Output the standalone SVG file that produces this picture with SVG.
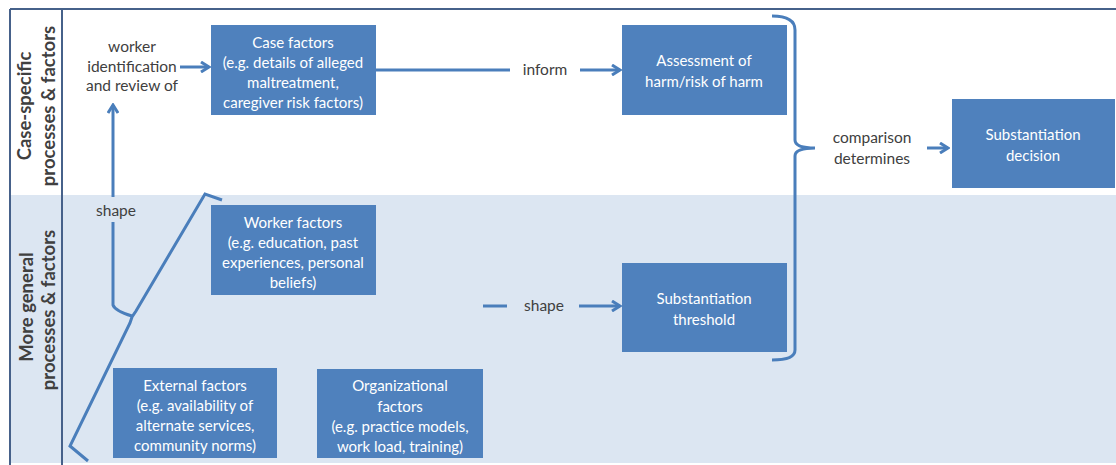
<svg xmlns="http://www.w3.org/2000/svg" width="1116" height="465" viewBox="0 0 1116 465">
<defs>
<style>
.box{fill:#4f81bd;}
.bt{font-family:Lato,"Liberation Sans",sans-serif;font-size:15px;fill:#ffffff;text-anchor:middle;}
.lbl{font-family:Lato,"Liberation Sans",sans-serif;font-size:15.5px;fill:#404040;text-anchor:middle;}
.side{font-family:Lato,"Liberation Sans",sans-serif;font-size:18.5px;font-weight:bold;fill:#404040;text-anchor:middle;}
.ln{stroke:#4a7ebb;stroke-width:3;fill:none;}
.frame{stroke:#46618a;stroke-width:2;fill:none;}
</style>
<marker id="ah" markerWidth="12" markerHeight="12" viewBox="0 0 12 12" refX="10" refY="6" orient="auto" markerUnits="userSpaceOnUse">
<path d="M2,1 L10,6 L2,11" fill="none" stroke="#4a7ebb" stroke-width="3"/>
</marker>
</defs>
<rect x="0" y="0" width="1116" height="465" fill="#ffffff"/>
<rect x="10" y="195" width="1106" height="268" fill="#dce6f2"/>
<g id="frame">
<line class="frame" x1="10" y1="9" x2="1116" y2="9"/>
<line class="frame" x1="10" y1="9" x2="10" y2="465"/>
<line class="frame" x1="62" y1="9" x2="62" y2="465"/>
</g>
<g id="side-top">
<text class="side" transform="translate(31,106) rotate(-90)">Case-specific</text>
<text class="side" transform="translate(55,106) rotate(-90)">processes &amp; factors</text>
</g>
<g id="side-bottom">
<text class="side" transform="translate(33,307) rotate(-90)">More general</text>
<text class="side" transform="translate(55,310) rotate(-90)">processes &amp; factors</text>
</g>
<g id="connectors">
<line class="ln" x1="180" y1="67" x2="209" y2="67" marker-end="url(#ah)"/>
<line class="ln" x1="113" y1="197" x2="113" y2="105" marker-end="url(#ah)"/>
<path class="ln" d="M113,222 L113,305 Q115,311 132,316"/>
<path class="ln" d="M222,200 L205,194 L136,311 L132,317 L130,323 L70,446 L88,461"/>
<line class="ln" x1="376" y1="70" x2="510" y2="70"/>
<line class="ln" x1="580" y1="70" x2="620" y2="70" marker-end="url(#ah)"/>
<path class="ln" d="M772,16 Q795,16 795,30 L795,140 Q795,148 815,148 Q795,148 795,156 L795,350 Q795,360 772,360"/>
<line class="ln" x1="927" y1="148" x2="948" y2="148" marker-end="url(#ah)"/>
<line class="ln" x1="483" y1="306" x2="507" y2="306"/>
<line class="ln" x1="579" y1="306" x2="620" y2="306" marker-end="url(#ah)"/>
</g>
<g id="labels">
<text class="lbl" x="132" y="52">worker</text>
<text class="lbl" x="132" y="72">identification</text>
<text class="lbl" x="132" y="91">and review of</text>
<text class="lbl" x="116" y="216">shape</text>
<text class="lbl" x="545" y="75">inform</text>
<text class="lbl" x="544" y="311">shape</text>
<text class="lbl" x="872" y="143">comparison</text>
<text class="lbl" x="872" y="164">determines</text>
</g>
<g id="case-factors">
<rect class="box" x="211" y="25" width="165" height="90"/>
<text class="bt" x="293" y="48">Case factors</text>
<text class="bt" x="293" y="68">(e.g. details of alleged</text>
<text class="bt" x="293" y="88">maltreatment,</text>
<text class="bt" x="293" y="108">caregiver risk factors)</text>
</g>
<g id="assessment">
<rect class="box" x="622" y="25" width="165" height="90"/>
<text class="bt" x="704" y="66">Assessment of</text>
<text class="bt" x="704" y="87">harm/risk of harm</text>
</g>
<g id="substantiation-decision">
<rect class="box" x="952" y="99" width="163" height="89"/>
<text class="bt" x="1033" y="140">Substantiation</text>
<text class="bt" x="1033" y="161">decision</text>
</g>
<g id="worker-factors">
<rect class="box" x="211" y="205" width="165" height="90"/>
<text class="bt" x="293" y="228">Worker factors</text>
<text class="bt" x="293" y="248">(e.g. education, past</text>
<text class="bt" x="293" y="268">experiences, personal</text>
<text class="bt" x="293" y="288">beliefs)</text>
</g>
<g id="substantiation-threshold">
<rect class="box" x="622" y="263" width="165" height="89"/>
<text class="bt" x="704" y="304">Substantiation</text>
<text class="bt" x="704" y="325">threshold</text>
</g>
<g id="external-factors">
<rect class="box" x="113" y="368" width="164" height="90"/>
<text class="bt" x="195" y="391">External factors</text>
<text class="bt" x="195" y="411">(e.g. availability of</text>
<text class="bt" x="195" y="431">alternate services,</text>
<text class="bt" x="195" y="451">community norms)</text>
</g>
<g id="organizational-factors">
<rect class="box" x="317" y="369" width="166" height="89"/>
<text class="bt" x="400" y="391">Organizational</text>
<text class="bt" x="400" y="412">factors</text>
<text class="bt" x="400" y="432">(e.g. practice models,</text>
<text class="bt" x="400" y="452">work load, training)</text>
</g>
</svg>
